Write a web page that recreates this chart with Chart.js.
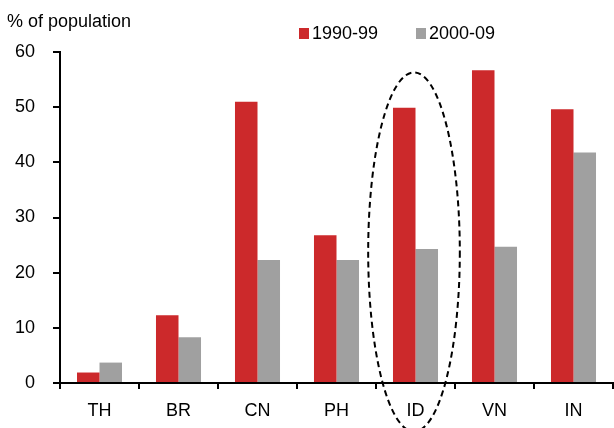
<!DOCTYPE html>
<html>
<head>
<meta charset="utf-8">
<script src="https://cdn.jsdelivr.net/npm/chart.js@4"></script>
<style>
  html, body { margin: 0; padding: 0; background: #fff; }
  canvas { display: block; }
</style>
</head>
<body>
<canvas id="povertyChart" width="614" height="428"></canvas>
<script>
// 국가 코드
const countries = ['TH', 'BR', 'CN', 'PH', 'ID', 'VN', 'IN'];
// 1990-99 / 2000-09 값 (% of population)
const values1990s = [1.9, 12.3, 51.0, 26.8, 49.9, 56.7, 49.6];
const values2000s = [3.7, 8.3, 22.3, 22.3, 24.3, 24.7, 41.8];
const yTicks = [0, 10, 20, 30, 40, 50, 60];

const FONT = 'Arial, "Liberation Sans", sans-serif';

// 제목 + 범례 + 점선 타원 그리기
const extrasPlugin = {
    id: 'extras',
    afterDraw(chart) {
        const ctx = chart.ctx;
        ctx.save();
        ctx.fillStyle = '#000';
        ctx.font = '18px ' + FONT;
        ctx.textBaseline = 'alphabetic';
        ctx.textAlign = 'left';
        ctx.fillText('% of population', 7, 27);

        // 범례
        const legendX = [299, 416];
        chart.data.datasets.forEach((ds, i) => {
            ctx.fillStyle = ds.backgroundColor;
            ctx.fillRect(legendX[i], 28, 10, 11);
            ctx.fillStyle = '#000';
            ctx.fillText(ds.label, legendX[i] + 13, 39);
        });

        // ID 강조 타원
        const x = chart.scales.x;
        const y = chart.scales.y;
        const cx = x.getPixelForValue(4) - 1.5;
        const top = y.getPixelForValue(56.3);
        const bottom = y.getPixelForValue(-8.8);
        const cy = (top + bottom) / 2;
        const rx = x.getPixelForValue(1) - x.getPixelForValue(0);
        ctx.beginPath();
        ctx.setLineDash([6, 4]);
        ctx.lineWidth = 2;
        ctx.strokeStyle = '#000';
        ctx.ellipse(cx, cy, rx * 0.58, (bottom - top) / 2, 0, 0, Math.PI * 2);
        ctx.stroke();
        ctx.restore();
    }
};

new Chart(document.getElementById('povertyChart'), {
    type: 'bar',
    data: {
        labels: countries,
        datasets: [{
            label: '1990-99',
            data: values1990s,
            backgroundColor: '#CC292B',
            barPercentage: 1,
            categoryPercentage: 0.57
        }, {
            label: '2000-09',
            data: values2000s,
            backgroundColor: '#A0A0A0',
            barPercentage: 1,
            categoryPercentage: 0.57
        }]
    },
    options: {
        responsive: false,
        animation: false,
        layout: { padding: { top: 52, right: 1, bottom: 0, left: 0 } },
        plugins: {
            legend: { display: false },
            title: { display: false },
            tooltip: { enabled: false }
        },
        scales: {
            x: {
                afterFit: s => { s.height = 45; },
                border: { display: true, color: '#000', width: 2 },
                grid: { drawOnChartArea: false, drawTicks: true, tickLength: 6, color: '#000', lineWidth: 2, offset: true },
                ticks: { color: '#000', font: { family: FONT, size: 18 }, padding: 11 }
            },
            y: {
                min: 0,
                max: 60,
                afterFit: s => { s.width = 60; },
                afterBuildTicks: s => { s.ticks = yTicks.map(v => ({ value: v })); },
                border: { display: true, color: '#000', width: 2 },
                grid: { drawOnChartArea: false, drawTicks: true, tickLength: 7, color: '#000', lineWidth: 2 },
                ticks: { color: '#000', font: { family: FONT, size: 18 }, padding: 18 }
            }
        }
    },
    plugins: [extrasPlugin]
});
</script>
</body>
</html>
